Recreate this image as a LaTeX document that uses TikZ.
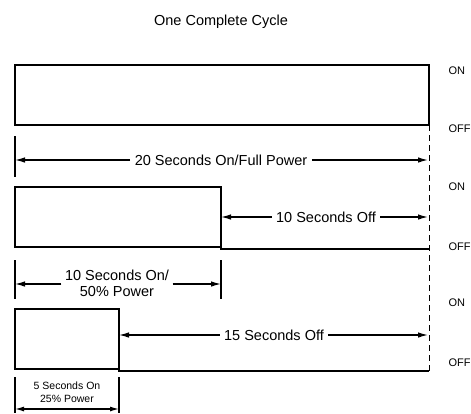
\documentclass[tikz,border=0pt]{standalone}
\usepackage{fontspec}
\setmainfont{Liberation Sans}
\usetikzlibrary{arrows.meta}
\begin{document}
\begin{tikzpicture}[x=1pt,y=-1pt,line width=1.2pt,
  lbl/.style={font=\fontsize{14.5}{16}\selectfont,inner sep=4pt},
  smalllbl/.style={font=\fontsize{10.5}{13}\selectfont,inner sep=1pt,align=center},
  state/.style={font=\fontsize{11}{12}\selectfont,anchor=west,inner sep=0pt},
  arr/.style={-{Latex[length=10pt,width=5.5pt]}},
  dasheddiv/.style={line width=1pt,dash pattern=on 6pt off 4pt}]
\useasboundingbox (0,0) rectangle (471,413);
% title
\node[lbl] (title) at (221,22) {One Complete Cycle};
% state labels
\node[state] (on1) at (448,71) {ON};
\node[state] (off1) at (448,129) {OFF};
\node[state] (on2) at (448,187) {ON};
\node[state] (off2) at (448,247) {OFF};
\node[state] (on3) at (448,303) {ON};
\node[state] (off3) at (448,363) {OFF};
% waveform 1
\draw (15,65) rectangle (429,125);
% dashed end-of-cycle line
\draw[dasheddiv] (429,125) -- (429,371);
% dimension 1
\draw (15,136) -- (15,177);
\node[lbl] (d1) at (221,160) {20 Seconds On/Full Power};
\coordinate (d1l) at (15,160);
\coordinate (d1r) at (428,160);
\draw[arr] (d1.west) -- (d1l);
\draw[arr] (d1.east) -- (d1r);
% waveform 2
\draw (221,247) -- (15,247) -- (15,187) -- (221,187) -- (221,249) -- (429,249);
\node[lbl] (off10) at (326,217) {10 Seconds Off};
\coordinate (o10l) at (221,217);
\coordinate (o10r) at (428,217);
\draw[arr] (off10.west) -- (o10l);
\draw[arr] (off10.east) -- (o10r);
% dimension 2
\draw (15,260) -- (15,299);
\draw (221,260) -- (221,299);
\node[lbl,align=center,inner sep=3pt] (d2) at (117,283) {10 Seconds On/\\50\% Power};
\coordinate (d2l) at (15,284);
\coordinate (d2r) at (221,284);
\draw[arr] (d2.west |- d2l) -- (d2l);
\draw[arr] (d2.east |- d2r) -- (d2r);
% waveform 3
\draw (119,369) -- (15,369) -- (15,309) -- (119,309) -- (119,371) -- (429,371);
\node[lbl] (off15) at (274,335) {15 Seconds Off};
\coordinate (o15l) at (119,335);
\coordinate (o15r) at (428,335);
\draw[arr] (off15.west) -- (o15l);
\draw[arr] (off15.east) -- (o15r);
% dimension 3
\draw (15,377) -- (15,413);
\draw (119,377) -- (119,413);
\node[smalllbl] (d3) at (67,392) {5 Seconds On\\25\% Power};
\coordinate (d3l) at (15,409);
\coordinate (d3r) at (119,409);
\draw[{Latex[length=9pt,width=5pt]}-{Latex[length=9pt,width=5pt]}] (d3l) -- (d3r);
\end{tikzpicture}
\end{document}
